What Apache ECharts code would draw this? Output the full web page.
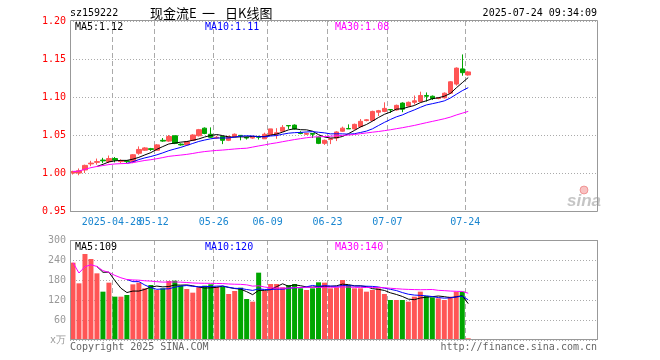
<!DOCTYPE html>
<html>
<head>
<meta charset="utf-8">
<script src="https://cdn.jsdelivr.net/npm/echarts@6/dist/echarts.min.js"></script>
<style>html,body{margin:0;padding:0;background:#fff}#c{width:660px;height:360px}</style>
</head>
<body>
<div id="c"></div>
<script>
const dates = ['2025-04-17','2025-04-18','2025-04-21','2025-04-22','2025-04-23','2025-04-24','2025-04-25','2025-04-28','2025-04-29','2025-04-30',
'2025-05-06','2025-05-07','2025-05-08','2025-05-09','2025-05-12','2025-05-13','2025-05-14','2025-05-15','2025-05-16','2025-05-19',
'2025-05-20','2025-05-21','2025-05-22','2025-05-23','2025-05-26','2025-05-27','2025-05-28','2025-05-29','2025-05-30','2025-06-03',
'2025-06-04','2025-06-05','2025-06-06','2025-06-09','2025-06-10','2025-06-11','2025-06-12','2025-06-13','2025-06-16','2025-06-17',
'2025-06-18','2025-06-19','2025-06-20','2025-06-23','2025-06-24','2025-06-25','2025-06-26','2025-06-27','2025-06-30','2025-07-01',
'2025-07-02','2025-07-03','2025-07-04','2025-07-07','2025-07-08','2025-07-09','2025-07-10','2025-07-11','2025-07-14','2025-07-15',
'2025-07-16','2025-07-17','2025-07-18','2025-07-21','2025-07-22','2025-07-23','2025-07-24'];
const emptySlots = 21;
const opens = [1.000,1.000,1.004,1.012,1.014,1.017,1.015,1.019,1.015,1.016,
1.015,1.026,1.030,1.032,1.030,1.043,1.042,1.049,1.038,1.037,
1.043,1.049,1.059,1.051,1.046,1.048,1.043,1.048,1.0495,1.047,
1.046,1.048,1.045,1.050,1.051,1.055,1.0625,1.063,1.053,1.051,
1.052,1.047,1.039,1.044,1.046,1.055,1.0585,1.058,1.061,1.069,
1.069,1.080,1.081,1.0835,1.083,1.092,1.088,1.093,1.094,1.102,
1.101,1.098,1.099,1.105,1.117,1.137,1.129];
const closes = [1.002,1.003,1.010,1.013,1.015,1.016,1.019,1.017,1.016,1.015,
1.024,1.031,1.033,1.031,1.037,1.042,1.048,1.039,1.037,1.041,
1.050,1.057,1.052,1.047,1.047,1.043,1.048,1.051,1.049,1.046,
1.047,1.047,1.051,1.058,1.053,1.060,1.062,1.058,1.052,1.052,
1.051,1.039,1.043,1.045,1.054,1.059,1.058,1.064,1.068,1.070,
1.081,1.082,1.085,1.083,1.089,1.084,1.093,1.095,1.102,1.101,
1.098,1.099,1.105,1.120,1.138,1.132,1.133];
const lows = [0.998,0.997,1.000,1.009,1.011,1.013,1.013,1.014,1.013,1.013,
1.013,1.024,1.029,1.029,1.029,1.041,1.041,1.038,1.036,1.036,
1.042,1.048,1.051,1.046,1.045,1.038,1.042,1.047,1.043,1.044,
1.045,1.044,1.045,1.050,1.045,1.054,1.058,1.057,1.051,1.050,
1.046,1.038,1.037,1.038,1.042,1.054,1.058,1.057,1.060,1.068,
1.068,1.075,1.080,1.079,1.082,1.080,1.087,1.090,1.093,1.094,
1.096,1.097,1.098,1.104,1.115,1.128,1.128];
const highs = [1.003,1.006,1.011,1.016,1.019,1.020,1.023,1.021,1.018,1.017,
1.025,1.035,1.034,1.033,1.038,1.046,1.050,1.049,1.039,1.042,
1.051,1.058,1.060,1.060,1.049,1.049,1.049,1.052,1.050,1.048,
1.048,1.049,1.053,1.058,1.059,1.063,1.0625,1.064,1.055,1.053,
1.052,1.048,1.044,1.046,1.055,1.061,1.064,1.065,1.071,1.071,
1.082,1.083,1.093,1.084,1.090,1.093,1.094,1.102,1.107,1.106,
1.102,1.100,1.106,1.121,1.139,1.156,1.134];
const volumes = [232,170,258,243,200,145,172,130,130,135,
167,172,155,165,150,155,177,178,163,153,
142,158,163,167,160,160,138,147,157,123,
115,202,147,168,168,158,165,168,155,150,
155,173,172,155,158,180,165,155,155,145,
150,155,138,120,120,120,115,130,145,132,
128,125,120,130,145,145,5];
const tickDates = ['2025-04-28','2025-05-12','2025-05-26','2025-06-09','2025-06-23','2025-07-07','2025-07-24'];
const tickLabels = ['2025-04-28','05-12','05-26','06-09','06-23','07-07','07-24'];
const priceTicks = [0.95,1.00,1.05,1.10,1.15,1.20];
const volTicks = [0,60,120,180,240,300];
const volUnitLabel = 'x万';
const headerCode = 'sz159222';
const headerTitle = ['现金流E','一','日K线图'];
const headerTime = '2025-07-24 09:34:09';
const priceMALabels = ['MA5:1.12','MA10:1.11','MA30:1.08'];
const volMALabels = ['MA5:109','MA10:120','MA30:140'];
const copyright = 'Copyright 2025 SINA.COM';
const siteUrl = 'http://finance.sina.com.cn';

const RED = '#ff5555', GREEN = '#00a600';
const MONO = '"DejaVu Sans Mono", monospace';

const cats = dates.concat(new Array(emptySlots).fill(''));
const tickIdx = tickDates.map(d => dates.indexOf(d));
function ma(arr, n, expanding) {
  return arr.map((v, i) => {
    if (i < n - 1 && !expanding) return '-';
    const s = Math.max(0, i - n + 1);
    let sum = 0; for (let k = s; k <= i; k++) sum += arr[k];
    return +(sum / (i - s + 1)).toFixed(4);
  });
}
const kData = dates.map((d, i) => [opens[i], closes[i], lows[i], highs[i]]);
const volData = volumes.map((v, i) => ({value: v, itemStyle: {color: closes[i] >= opens[i] ? RED : GREEN}}));

const chart = echarts.init(document.getElementById('c'), null, {renderer: 'canvas'});
// label sets: first label on its own axis so it is not dropped as an overlap
const labelSets = [tickIdx.slice(1), tickIdx.slice(0, 1)];
const xBase = (gi, showLabel, labelSet, showSplit) => ({
  type: 'category', gridIndex: gi, data: cats, boundaryGap: true, position: 'bottom',
  axisLine: {show: false}, axisTick: {show: false},
  axisLabel: {show: showLabel, hideOverlap: false, interval: (i) => labelSet.includes(i),
    formatter: (v, i) => { const k = tickIdx.indexOf(i); return k >= 0 ? tickLabels[k] : ''; },
    color: '#1a86d0', fontFamily: MONO, fontSize: 10, margin: 6, padding: [0, 6, 0, 0]},
  splitLine: {show: showSplit, interval: (i) => tickIdx.includes(i),
    lineStyle: {color: '#aaaaaa', type: [5, 3], width: 1}}
});
const lineS = (name, data, color, xi, yi) => ({
  type: 'line', name, data, xAxisIndex: xi, yAxisIndex: yi, showSymbol: false, symbol: 'none',
  lineStyle: {color, width: 1}, itemStyle: {color}, silent: true, z: 5
});
const txt = (text, x, y, fill, align, font) => ({type: 'text', z: 110,
  style: {text, x, y, fill, textAlign: align || 'left', textVerticalAlign: 'middle', font: font || ('10px ' + MONO)}});

chart.setOption({
  animation: false,
  backgroundColor: '#ffffff',
  grid: [
    {left: 70, top: 21, width: 527, height: 190},
    {left: 70, top: 240, width: 527, height: 100}
  ],
  xAxis: [xBase(0, true, labelSets[0], true), xBase(1, false, [], true), xBase(0, true, labelSets[1], false)],
  yAxis: [
    {type: 'value', gridIndex: 0, min: priceTicks[0], max: priceTicks[priceTicks.length - 1], interval: 0.05,
      axisLine: {show: false}, axisTick: {show: false},
      axisLabel: {color: '#ff0000', fontFamily: MONO, fontSize: 10, margin: 4, formatter: v => v.toFixed(2)},
      splitLine: {show: true, lineStyle: {color: '#aaaaaa', type: [1, 2], width: 1}}},
    {type: 'value', gridIndex: 1, min: volTicks[0], max: volTicks[volTicks.length - 1], interval: 60,
      axisLine: {show: false}, axisTick: {show: false},
      axisLabel: {color: '#999999', fontFamily: MONO, fontSize: 10, margin: 4, formatter: v => v === 0 ? volUnitLabel : String(v)},
      splitLine: {show: true, lineStyle: {color: '#aaaaaa', type: [1, 2], width: 1}}}
  ],
  series: [
    {type: 'candlestick', data: kData, xAxisIndex: 0, yAxisIndex: 0, barWidth: 5,
      itemStyle: {color: RED, color0: GREEN, borderColor: RED, borderColor0: GREEN, borderWidth: 1}, z: 3},
    lineS('MA5', ma(closes, 5), '#000000', 0, 0),
    lineS('MA10', ma(closes, 10), '#0000ff', 0, 0),
    lineS('MA30', ma(closes, 30, true), '#ff00ff', 0, 0),
    {type: 'bar', data: volData, xAxisIndex: 1, yAxisIndex: 1, barWidth: 5, z: 3},
    lineS('VMA5', ma(volumes, 5), '#000000', 1, 1),
    lineS('VMA10', ma(volumes, 10), '#0000ff', 1, 1),
    lineS('VMA30', ma(volumes, 30, true), '#ff00ff', 1, 1)
  ],
  graphic: [
    {type: 'rect', z: 100, shape: {x: 70.5, y: 20.5, width: 527, height: 191}, style: {fill: 'none', stroke: '#999999', lineWidth: 1}},
    {type: 'rect', z: 100, shape: {x: 70.5, y: 240.5, width: 527, height: 99}, style: {fill: 'none', stroke: '#999999', lineWidth: 1}},
    txt(headerCode, 70, 13, '#000000'),
    txt(headerTitle[0], 150, 13, '#000000', 'left', '13px "Noto Sans CJK SC"'),
    txt(headerTitle[1], 202, 13, '#000000', 'left', '13px "Noto Sans CJK SC"'),
    txt(headerTitle[2], 225, 13, '#000000', 'left', '13px "Noto Sans CJK SC"'),
    txt(headerTime, 597, 13, '#000000', 'right'),
    txt(priceMALabels[0], 75, 27, '#000000'),
    txt(priceMALabels[1], 205, 27, '#0000ff'),
    txt(priceMALabels[2], 335, 27, '#ff00ff'),
    txt(volMALabels[0], 75, 247, '#000000'),
    txt(volMALabels[1], 205, 247, '#0000ff'),
    txt(volMALabels[2], 335, 247, '#ff00ff'),
    txt(copyright, 70, 347, '#666666'),
    txt(siteUrl, 597, 347, '#666666', 'right'),
    {type: 'circle', z: 90, shape: {cx: 584, cy: 190, r: 4}, style: {fill: 'rgba(240,120,120,0.45)', stroke: 'rgba(230,90,90,0.5)', lineWidth: 1}},
    txt('sina', 567, 201, 'rgba(150,150,150,0.55)', 'left', 'italic bold 17px "Liberation Sans"')
  ]
});
</script>
</body>
</html>
